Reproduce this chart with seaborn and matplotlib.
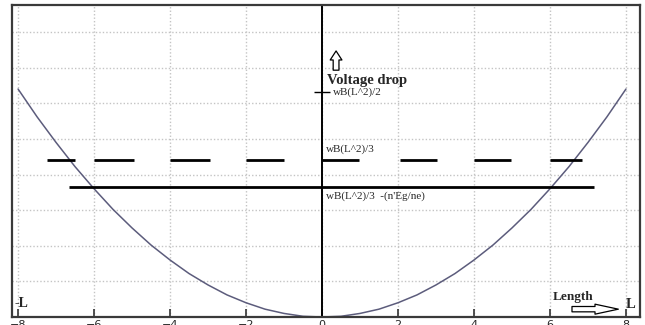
import seaborn as sns
import pandas as pd
import matplotlib.pyplot as plt
import matplotlib

sns.set_style('white')
matplotlib.rcParams['font.family'] = ['DejaVu Sans']

# curve (voltage drop along the length)
length = [-8, -7.5, -7, -6.5, -6, -5.5, -5, -4.5, -4, -3.5, -3, -2.5, -2, -1.5, -1, -0.5, 0,
          0.5, 1, 1.5, 2, 2.5, 3, 3.5, 4, 4.5, 5, 5.5, 6, 6.5, 7, 7.5, 8]
drop = [6.4, 5.62, 4.9, 4.22, 3.6, 3.02, 2.5, 2.02, 1.6, 1.22, 0.9, 0.62, 0.4, 0.22, 0.1, 0.02, 0.0,
        0.02, 0.1, 0.22, 0.4, 0.62, 0.9, 1.22, 1.6, 2.02, 2.5, 3.02, 3.6, 4.22, 4.9, 5.62, 6.4]

# dashed level wB(L^2)/3
dash_level = 4.4
dash_starts = [-7.25, -6.0, -4.0, -2.0, 0.0, 2.05, 4.0, 6.0]
dash_ends = [-6.5, -4.95, -2.95, -1.0, 0.97, 3.03, 4.97, 6.85]

# solid level wB(L^2)/3 - (n'Eg/ne)
solid_level = 3.66
solid_start, solid_end = -6.66, 7.16

half_level = 6.32
x_ticks = [-8, -6, -4, -2, 0, 2, 4, 6, 8]
y_ticks = [0, 1, 2, 3, 4, 5, 6, 7, 8]

df = pd.DataFrame({'length': length, 'drop': drop})

fig = plt.figure(figsize=(6.45, 3.25), dpi=100)
ax = fig.add_axes([12 / 645, 1 - 317 / 325, 628 / 645, 312 / 325])

sns.lineplot(data=df, x='length', y='drop', ax=ax, color='#5c5c7c', lw=1.1)

ax.set_xlim(-8.16, 8.37)
ax.set_ylim(0, 8.76)
ax.set_xticks(x_ticks)
ax.set_yticks(y_ticks)
ax.grid(True, color='#c4c4c4', linestyle=(0, (1, 1.5)), linewidth=1.0)
ax.set_axisbelow(True)
ax.tick_params(axis='x', direction='in', length=6, width=1.2, color='#333333',
               pad=2.5, labelsize=8, bottom=True)
ax.tick_params(axis='y', left=False, labelleft=False)
ax.set_xlabel('')
ax.set_ylabel('')
for sp in ax.spines.values():
    sp.set_color('#3a3a3a')
    sp.set_linewidth(1.6)

ax.axvline(0, color='black', lw=1.4)
ax.hlines([dash_level] * len(dash_starts), dash_starts, dash_ends, color='black', lw=2.0)
ax.hlines(solid_level, solid_start, solid_end, color='black', lw=2.0)
ax.hlines(half_level, -0.21, 0.21, color='black', lw=1.0)

serif = 'Liberation Serif'
ax.text(0.13, 6.63, 'Voltage drop', family=serif, weight='bold', fontsize=10.5,
        va='center', ha='left')
ax.text(0.28, 6.32, 'wB(L^2)/2', family=serif, fontsize=8, va='center', ha='left')
ax.text(0.1, 4.72, 'wB(L^2)/3', family=serif, fontsize=8, va='center', ha='left')
ax.text(0.1, 3.38, "wB(L^2)/3  -(n'Eg/ne)", family=serif, fontsize=8,
        va='center', ha='left')
ax.text(-8.1, 0.39, '-L', family=serif, weight='bold', fontsize=10, va='center', ha='left')
ax.text(6.06, 0.56, 'Length', family=serif, weight='bold', fontsize=9.5, va='center', ha='left')
ax.text(8.0, 0.36, 'L', family=serif, weight='bold', fontsize=10.5, va='center', ha='left')

ax.annotate('', xy=(0.37, 7.47), xytext=(0.37, 6.93),
            arrowprops=dict(arrowstyle='simple,head_length=0.5,head_width=0.65,tail_width=0.32',
                            fc='white', ec='black', lw=0.9, shrinkA=0, shrinkB=0,
                            mutation_scale=13))
ax.annotate('', xy=(7.8, 0.22), xytext=(6.58, 0.22),
            arrowprops=dict(arrowstyle='simple,head_length=1.4,head_width=0.6,tail_width=0.32',
                            fc='white', ec='black', lw=0.9, shrinkA=0, shrinkB=0,
                            mutation_scale=12))

plt.savefig('out.png', dpi=100)
